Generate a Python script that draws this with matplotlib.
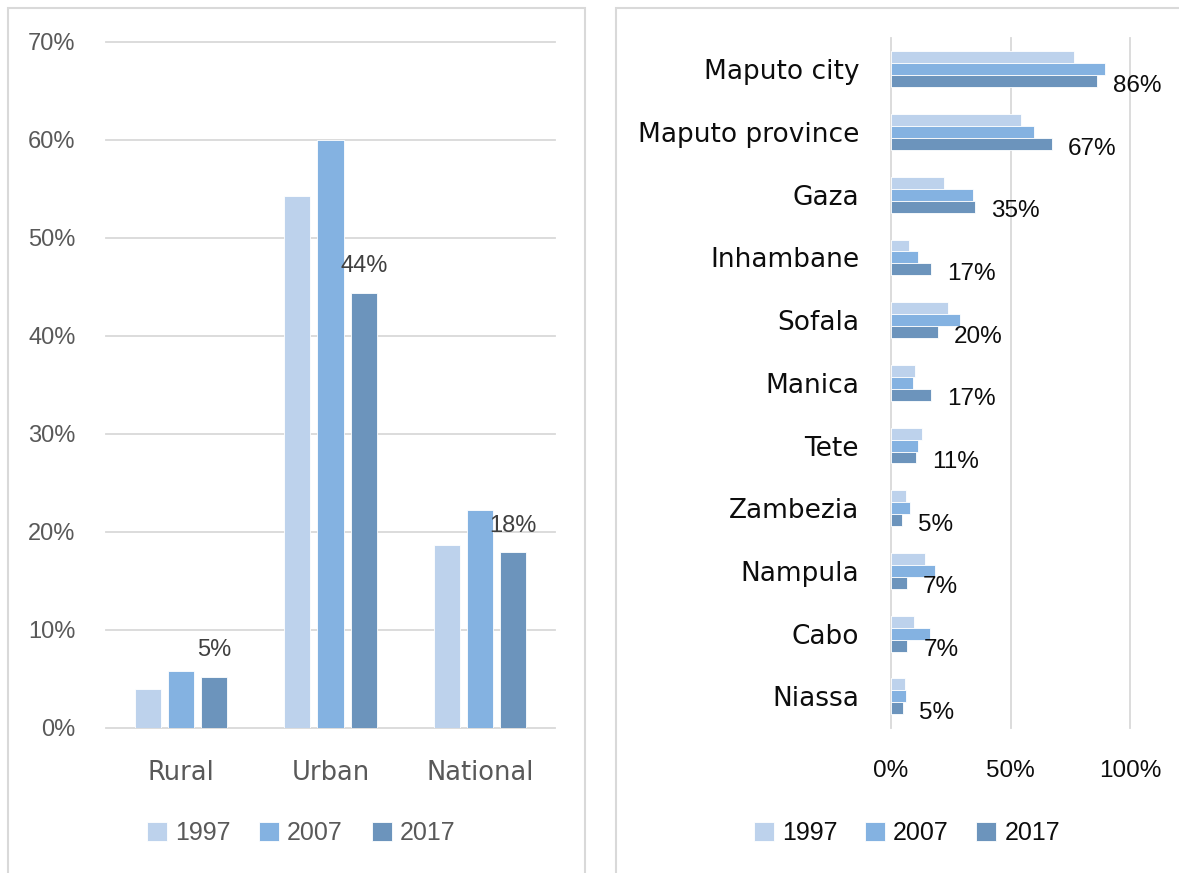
import numpy as np
import matplotlib.pyplot as plt
from matplotlib.patches import Rectangle
from matplotlib.ticker import FuncFormatter

W, H = 1179, 873

years = ['1997', '2007', '2017']
colors = ['#bdd2ec', '#84b2e1', '#6c94bc']

areas = ['Rural', 'Urban', 'National']
area_1997 = [0.040, 0.543, 0.187]
area_2007 = [0.058, 0.600, 0.222]
area_2017 = [0.052, 0.444, 0.179]

provinces = ['Maputo city', 'Maputo province', 'Gaza', 'Inhambane', 'Sofala',
             'Manica', 'Tete', 'Zambezia', 'Nampula', 'Cabo', 'Niassa']
prov_1997 = [0.765, 0.545, 0.221, 0.075, 0.237, 0.100, 0.129, 0.062, 0.143, 0.095, 0.059]
prov_2007 = [0.895, 0.597, 0.342, 0.112, 0.288, 0.090, 0.115, 0.079, 0.184, 0.163, 0.064]
prov_2017 = [0.861, 0.674, 0.350, 0.169, 0.197, 0.166, 0.106, 0.046, 0.066, 0.069, 0.050]

WORD = 'DejaVu Sans'
NUM = 'Liberation Sans'
GRID = '#d9d9d9'
pct = FuncFormatter(lambda v, _: f'{v:.0%}')


def fx(px):
    return px / W


def fy(px):
    return 1 - px / H


fig = plt.figure(figsize=(W / 100, H / 100), dpi=100)

# panel frames
fig.patches.append(Rectangle((fx(8), -0.1), fx(585) - fx(8), fy(8) + 0.1,
                             transform=fig.transFigure, fill=False,
                             edgecolor=GRID, linewidth=1.5))
fig.patches.append(Rectangle((fx(616), -0.1), 1.0, fy(8) + 0.1,
                             transform=fig.transFigure, fill=False,
                             edgecolor=GRID, linewidth=1.5))

# ---- left: rural / urban / national
ax1 = fig.add_axes([fx(106), fy(727.7), fx(555) - fx(106), (727.7 - 42) / H])
x = np.arange(len(areas))
step, bw = 0.222, 0.175
bars1 = []
for i, vals in enumerate([area_1997, area_2007, area_2017]):
    b = ax1.bar(x + (i - 1) * step, vals, bw, color=colors[i],
                edgecolor='white', linewidth=0.6, zorder=3, label=years[i])
    bars1.append(b)
for xi, v in zip(x + step, area_2017):
    ax1.annotate(f'{v:.0%}', (xi, v), xytext=(0, 15), textcoords='offset points',
                 ha='center', va='baseline', fontsize=17, family=NUM, color='#404040')
ax1.set_xlim(-0.5, 2.5)
ax1.set_ylim(0, 0.7)
ax1.set_yticks(np.arange(0, 0.71, 0.1))
ax1.yaxis.set_major_formatter(pct)
ax1.set_xticks(x)
ax1.set_xticklabels(areas, family=WORD, fontsize=18.5, color='#595959')
for t in ax1.get_yticklabels():
    t.set_family(NUM)
    t.set_fontsize(17)
    t.set_color('#595959')
ax1.tick_params(axis='y', length=0, pad=22)
ax1.tick_params(axis='x', length=0, pad=23)
ax1.grid(axis='y', color=GRID, linewidth=1.3, zorder=0)
for gl in ax1.get_ygridlines():
    gl.set_clip_on(False)
for s in ax1.spines.values():
    s.set_visible(False)
ax1.legend(handles=bars1, loc='center', ncol=3, frameon=False,
           bbox_to_anchor=(fx(301), fy(833)), bbox_transform=fig.transFigure,
           prop={'family': NUM, 'size': 18}, labelcolor='#595959',
           handlelength=0.8, handleheight=0.76, handletextpad=0.32,
           columnspacing=1.15)

# ---- right: provinces
ax2 = fig.add_axes([fx(891), fy(727.7), fx(1130) - fx(891), (727.7 - 38) / H])
y = np.arange(len(provinces))
hstep, bh = 0.19, 0.19
bars2 = []
for i, vals in enumerate([prov_1997, prov_2007, prov_2017]):
    b = ax2.barh(y + (i - 1) * hstep, vals, bh, color=colors[i],
                 edgecolor='white', linewidth=0.6, zorder=3, label=years[i])
    bars2.append(b)
for yi, v in zip(y + hstep, prov_2017):
    ax2.annotate(f'{v:.0%}', (v, yi), xytext=(11.5, -1.5), textcoords='offset points',
                 ha='left', va='center_baseline', fontsize=17.5, family=NUM,
                 color='#0d0d0d', annotation_clip=False)
ax2.set_xlim(0, 1.0)
ax2.set_ylim(len(provinces) - 0.5, -0.5)
ax2.set_xticks([0, 0.5, 1.0])
ax2.xaxis.set_major_formatter(pct)
ax2.set_yticks(y)
ax2.set_yticklabels(provinces, family=WORD, fontsize=19, color='#0d0d0d')
for t in ax2.get_xticklabels():
    t.set_family(NUM)
    t.set_fontsize(17.5)
    t.set_color('#0d0d0d')
ax2.tick_params(axis='y', length=0, pad=23)
ax2.tick_params(axis='x', length=0, pad=23)
ax2.grid(axis='x', color=GRID, linewidth=1.3, zorder=0)
for gl in ax2.get_xgridlines():
    gl.set_clip_on(False)
for s in ax2.spines.values():
    s.set_visible(False)
ax2.legend(handles=bars2, loc='center', ncol=3, frameon=False,
           bbox_to_anchor=(fx(907), fy(833)), bbox_transform=fig.transFigure,
           prop={'family': NUM, 'size': 18}, labelcolor='#0d0d0d',
           handlelength=0.8, handleheight=0.76, handletextpad=0.32,
           columnspacing=1.1)

fig.savefig('out.png', dpi=100)
